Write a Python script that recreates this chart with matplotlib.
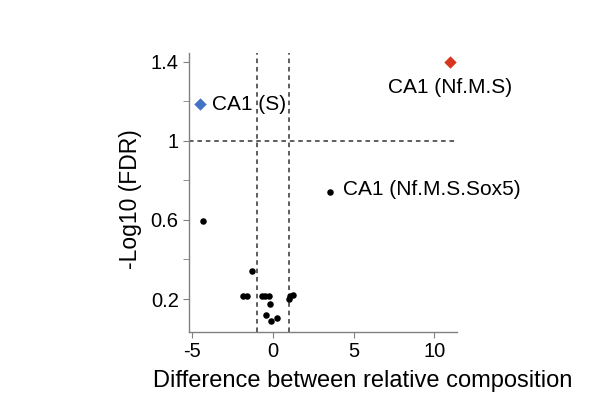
import matplotlib.pyplot as plt
import numpy as np

plt.rcParams['font.family'] = ['Liberation Sans', 'DejaVu Sans']
plt.rcParams['axes.unicode_minus'] = False

# black points (not labelled)
diff_ns = [-4.34, -1.27, -1.85, -1.6, -0.65, -0.45, -0.25, -0.18, -0.41, -0.12, 0.25, 1.01, 1.09, 1.26]
fdr_ns = [0.597, 0.342, 0.215, 0.215, 0.215, 0.215, 0.215, 0.175, 0.12, 0.087, 0.104, 0.2, 0.217, 0.218]

# labelled points
lab_names = ['CA1 (Nf.M.S)', 'CA1 (S)', 'CA1 (Nf.M.S.Sox5)']
lab_diff = [10.97, -4.52, 3.56]
lab_fdr = [1.4, 1.186, 0.742]
lab_colors = ['#d8351f', '#4472c4', 'black']
lab_markers = ['D', 'D', 'o']
lab_offsets = [(-44.6, -18.7), (8.6, 0), (9.4, 1.5)]

fig = plt.figure(figsize=(6.16, 3.96), dpi=100)
ax = fig.add_axes([0.307, 0.162, 0.435, 0.704])

ax.axvline(-1, color='#333333', linestyle=(0, (3, 2.5)), linewidth=1.1, zorder=1)
ax.axvline(1, color='#333333', linestyle=(0, (3, 2.5)), linewidth=1.1, zorder=1)
ax.axhline(1, color='#333333', linestyle=(0, (3, 2.5)), linewidth=1.1, zorder=1)

ax.scatter(diff_ns, fdr_ns, s=22, color='black', zorder=3, linewidths=0)

for name, x, y, c, m, off in zip(lab_names, lab_diff, lab_fdr, lab_colors, lab_markers, lab_offsets):
    sz = 40 if m == 'D' else 22
    ax.scatter([x], [y], s=sz, color=c, marker=m, zorder=3, linewidths=0)
    ax.annotate(name, (x, y), xytext=off, textcoords='offset points',
                ha='left', va='center', fontsize=15)

ax.set_xlim(-5.17, 11.4)
ax.set_ylim(0.034, 1.444)
ax.set_xticks([-5, 0, 5, 10])
ax.set_yticks([0.2, 0.6, 1.0, 1.4])
ax.set_yticklabels(['0.2', '0.6', '1', '1.4'])
ax.set_yticks([0.4, 0.8, 1.2], minor=True)

for s in ['top', 'right']:
    ax.spines[s].set_visible(False)
for s in ['left', 'bottom']:
    ax.spines[s].set_color('#808080')
    ax.spines[s].set_linewidth(1.0)
ax.tick_params(which='both', color='#808080', length=4, labelsize=14.5)
ax.tick_params(which='minor', length=4)

ax.set_xlabel('Difference between relative composition', fontsize=17, labelpad=6)
ax.set_ylabel('-Log10 (FDR)', fontsize=16.5, labelpad=6)
ax.xaxis.label.set_x(0.646)
ax.yaxis.label.set_y(0.477)

fig.savefig('out.png', dpi=100)
